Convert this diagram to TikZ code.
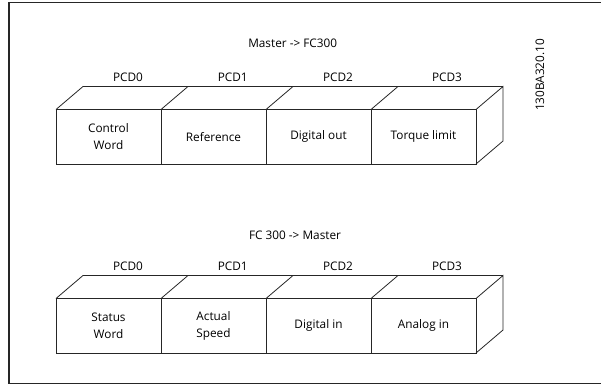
\documentclass[tikz,border=0pt]{standalone}
\usepackage{fontspec}
\setmainfont{Open Sans}
\usetikzlibrary{calc}
\begin{document}
\begin{tikzpicture}[x=1pt,y=-1pt,
  line/.style={draw=black!85,line width=0.8pt},
  face/.style={line,minimum width=105pt,minimum height=54.5pt,inner sep=0pt,outer sep=0pt,align=center,font=\fontsize{11.8}{16.5}\selectfont},
  lbl/.style={font=\fontsize{11.8}{14}\selectfont,inner sep=0pt}]
\useasboundingbox (0,0) rectangle (601,385);
\clip (0,0) rectangle (601,385);
\draw[line width=1.2pt,black!85] (9,2.5) rectangle (640,383.5);
% top row
\node[face,anchor=north west] (a0) at (56,109.5) {Control\\Word};
\node[face,anchor=north west] (a1) at (a0.north east) {Reference};
\node[face,anchor=north west] (a2) at (a1.north east) {Digital out};
\node[face,anchor=north west] (a3) at (a2.north east) {Torque limit};
\foreach \n in {a0,a1,a2,a3}{\draw[line] (\n.north west) -- ++(27,-23);}
\draw[line] ($(a0.north west)+(27,-23)$) -- ($(a3.north east)+(27,-23)$) coordinate (ta);
\draw[line] (a3.north east) -- (ta) -- ++(0,54.5) -- (a3.south east);
% bottom row
\node[face,anchor=north west] (b0) at (56,298.5) {Status\\Word};
\node[face,anchor=north west] (b1) at (b0.north east) {Actual\\Speed};
\node[face,anchor=north west] (b2) at (b1.north east) {Digital in};
\node[face,anchor=north west] (b3) at (b2.north east) {Analog in};
\foreach \n in {b0,b1,b2,b3}{\draw[line] (\n.north west) -- ++(27,-23);}
\draw[line] ($(b0.north west)+(27,-23)$) -- ($(b3.north east)+(27,-23)$) coordinate (tb);
\draw[line] (b3.north east) -- (tb) -- ++(0,54.5) -- (b3.south east);
% labels
\node[lbl] (t1) at (292.7,43) {Master -> FC300};
\node[lbl] (t2) at (295,235) {FC 300 -> Master};
\node[lbl] (p0) at (128,77) {PCD0};
\node[lbl] (p1) at (232.7,77) {PCD1};
\node[lbl] (p2) at (338,77) {PCD2};
\node[lbl] (p3) at (447,77) {PCD3};
\node[lbl] (q0) at (128,266) {PCD0};
\node[lbl] (q1) at (232.7,266) {PCD1};
\node[lbl] (q2) at (338,266) {PCD2};
\node[lbl] (q3) at (447,266) {PCD3};
\node[lbl,rotate=90] (id) at (540,75) {130BA320.10};
\end{tikzpicture}
\end{document}
